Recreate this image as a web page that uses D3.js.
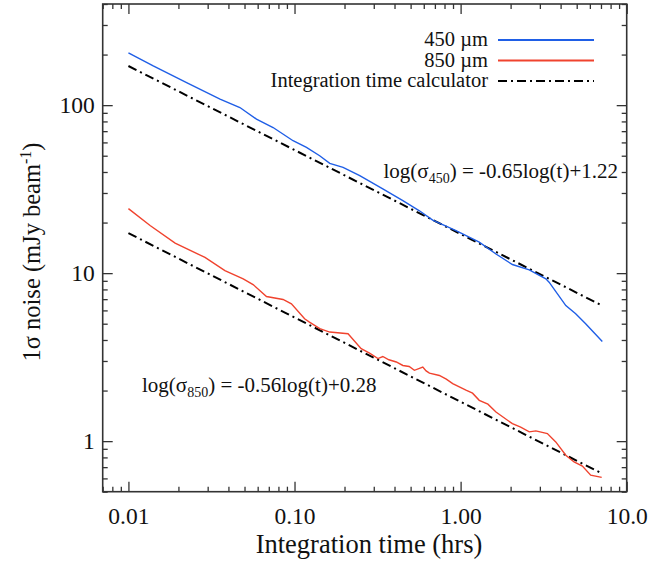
<!DOCTYPE html>
<html>
<head>
<meta charset="utf-8">
<script src="https://cdn.jsdelivr.net/npm/d3@7"></script>
<style>
  html, body { margin: 0; padding: 0; background: #fff; }
  text { font-family: "Liberation Serif", "DejaVu Serif", serif; fill: #111; }
</style>
</head>
<body>
<svg id="chart" width="661" height="563"></svg>
<script>
// ---- data ----
const t450 = [0.01, 0.0141, 0.0224, 0.0356, 0.0469, 0.059, 0.0743, 0.098, 0.118, 0.1417, 0.163, 0.196, 0.247, 0.34, 0.449, 0.565, 0.679, 0.938, 1.295, 1.633, 2.05, 2.59, 3.26, 3.41, 4.30, 4.93, 5.66, 7.13];
const s450 = [205, 171.2, 136.2, 108.6, 96.8, 82.5, 73.6, 61.4, 56.0, 50.0, 45.0, 42.6, 38.0, 31.7, 27.0, 23.5, 20.7, 17.9, 15.3, 13.0, 11.25, 10.47, 9.25, 8.83, 6.41, 5.73, 5.0, 3.92];

const t850 = [0.01, 0.0135, 0.0191, 0.0289, 0.0381, 0.0491, 0.0563, 0.0678, 0.0853, 0.0958, 0.115, 0.123, 0.142, 0.163, 0.21, 0.252, 0.283, 0.318, 0.34, 0.37, 0.41, 0.449, 0.49, 0.527, 0.592, 0.62, 0.649, 0.745, 0.82, 0.896, 1.077, 1.18, 1.295, 1.46, 1.633, 2.05, 2.3, 2.59, 2.84, 3.33, 3.74, 4.30, 4.82, 5.41, 6.07, 7.07];
const s850 = [24.2, 19.2, 15.1, 12.4, 10.36, 9.25, 8.55, 7.26, 6.97, 6.57, 5.35, 5.11, 4.67, 4.46, 4.36, 3.55, 3.34, 3.10, 3.19, 3.05, 2.96, 2.82, 2.78, 2.64, 2.76, 2.62, 2.54, 2.46, 2.34, 2.20, 2.01, 1.93, 1.75, 1.66, 1.49, 1.27, 1.21, 1.135, 1.15, 1.11, 0.989, 0.824, 0.752, 0.710, 0.627, 0.608];

const tCalc = [0.01, 7.13];
const calc450 = [171, 6.4];
const calc850 = [17.3, 0.64];

const xTickValues = [0.01, 0.1, 1, 10];
const xTickLabels = ["0.01", "0.10", "1.00", "10.0"];
const yTickValues = [1, 10, 100];
const yTickLabels = ["1", "10", "100"];

const legendLabels = ["450 \u00b5m", "850 \u00b5m", "Integration time calculator"];
const colors = { s450: "#1f5ee6", s850: "#f0432e", calc: "#000" };

// ---- layout ----
const W = 661, H = 563;
const margin = { left: 102.7, top: 4, right: 34.3, bottom: 71.3 };
const iw = W - margin.left - margin.right;
const ih = H - margin.top - margin.bottom;

const svg = d3.select("#chart");
const g = svg.append("g").attr("transform", `translate(${margin.left},${margin.top})`);

const x = d3.scaleLog().domain([0.007, 10]).range([0, iw]);
const y = d3.scaleLog().domain([0.5, 400]).range([ih, 0]);

// minor ticks
const minorX = [];
[0.001, 0.01, 0.1, 1].forEach(d => { for (let k = 2; k <= 9; k++) { const v = d * k; if (v >= 0.007 && v <= 10 && ![0.01,0.1,1,10].includes(+v.toFixed(6))) minorX.push(v); } });
const minorY = [];
[0.1, 1, 10, 100].forEach(d => { for (let k = 2; k <= 9; k++) { const v = d * k; if (v >= 0.5 && v <= 400) minorY.push(v); } });

const axisColor = "#333";
function styleAxis(sel) {
  sel.select(".domain").remove();
  sel.selectAll("line").attr("stroke", axisColor).attr("stroke-width", 1.3);
  sel.selectAll("text").attr("font-size", 23.5).attr("fill", "#111");
}

// bottom
g.append("g").attr("transform", `translate(0,${ih})`)
  .call(d3.axisBottom(x).tickValues(xTickValues).tickFormat((d, i) => xTickLabels[i]).tickSize(-10).tickPadding(16))
  .call(styleAxis);
g.append("g").attr("transform", `translate(0,${ih})`)
  .call(d3.axisBottom(x).tickValues(minorX).tickFormat("").tickSize(-5))
  .call(styleAxis);
// top
g.append("g")
  .call(d3.axisTop(x).tickValues(xTickValues).tickFormat("").tickSize(-10))
  .call(styleAxis);
g.append("g")
  .call(d3.axisTop(x).tickValues(minorX).tickFormat("").tickSize(-5))
  .call(styleAxis);
// left
g.append("g")
  .call(d3.axisLeft(y).tickValues(yTickValues).tickFormat((d, i) => yTickLabels[i]).tickSize(-10).tickPadding(8))
  .call(styleAxis);
g.append("g")
  .call(d3.axisLeft(y).tickValues(minorY).tickFormat("").tickSize(-5))
  .call(styleAxis);
// right
g.append("g").attr("transform", `translate(${iw},0)`)
  .call(d3.axisRight(y).tickValues(yTickValues).tickFormat("").tickSize(-10))
  .call(styleAxis);
g.append("g").attr("transform", `translate(${iw},0)`)
  .call(d3.axisRight(y).tickValues(minorY).tickFormat("").tickSize(-5))
  .call(styleAxis);

// frame
g.append("rect").attr("x", 0).attr("y", 0).attr("width", iw).attr("height", ih)
  .attr("fill", "none").attr("stroke", axisColor).attr("stroke-width", 1.6);

// lines
const line = d3.line().x(d => x(d[0])).y(d => y(d[1]));
const dashPattern = "9,4,2,4";

g.append("path").datum(d3.zip(tCalc, calc450)).attr("d", line)
  .attr("fill", "none").attr("stroke", colors.calc).attr("stroke-width", 2).attr("stroke-dasharray", dashPattern);
g.append("path").datum(d3.zip(tCalc, calc850)).attr("d", line)
  .attr("fill", "none").attr("stroke", colors.calc).attr("stroke-width", 2).attr("stroke-dasharray", dashPattern);
g.append("path").datum(d3.zip(t450, s450)).attr("d", line)
  .attr("fill", "none").attr("stroke", colors.s450).attr("stroke-width", 1.4);
g.append("path").datum(d3.zip(t850, s850)).attr("d", line)
  .attr("fill", "none").attr("stroke", colors.s850).attr("stroke-width", 1.4);

// legend
const legend = svg.append("g");
const legendRows = [
  { label: legendLabels[0], color: colors.s450, dash: null, y: 40 },
  { label: legendLabels[1], color: colors.s850, dash: null, y: 60.5 },
  { label: legendLabels[2], color: colors.calc, dash: dashPattern, y: 81 }
];
legendRows.forEach(r => {
  legend.append("line").attr("x1", 498).attr("x2", 594).attr("y1", r.y).attr("y2", r.y)
    .attr("stroke", r.color).attr("stroke-width", r.dash ? 2 : 2.2)
    .attr("stroke-dasharray", r.dash);
  legend.append("text").attr("x", 488).attr("y", r.y + 6).attr("text-anchor", "end")
    .attr("font-size", 20.5).text(r.label);
});

// equations
const eq1 = svg.append("text").attr("x", 618).attr("y", 178).attr("text-anchor", "end").attr("font-size", 21);
eq1.append("tspan").text("log(\u03c3");
eq1.append("tspan").attr("font-size", 14).attr("dy", 5).text("450");
eq1.append("tspan").attr("dy", -5).text(") = -0.65log(t)+1.22");

const eq2 = svg.append("text").attr("x", 142).attr("y", 392).attr("text-anchor", "start").attr("font-size", 21);
eq2.append("tspan").text("log(\u03c3");
eq2.append("tspan").attr("font-size", 14).attr("dy", 5).text("850");
eq2.append("tspan").attr("dy", -5).text(") = -0.56log(t)+0.28");

// axis titles
svg.append("text").attr("x", 369).attr("y", 553).attr("text-anchor", "middle")
  .attr("font-size", 26.5).text("Integration time (hrs)");

const yt = svg.append("text").attr("transform", `translate(40,252) rotate(-90)`)
  .attr("text-anchor", "middle").attr("font-size", 24.5);
yt.append("tspan").text("1\u03c3 noise (mJy beam");
yt.append("tspan").attr("font-size", 16).attr("dy", -9).text("-1");
yt.append("tspan").attr("dy", 9).text(")");
</script>
</body>
</html>
